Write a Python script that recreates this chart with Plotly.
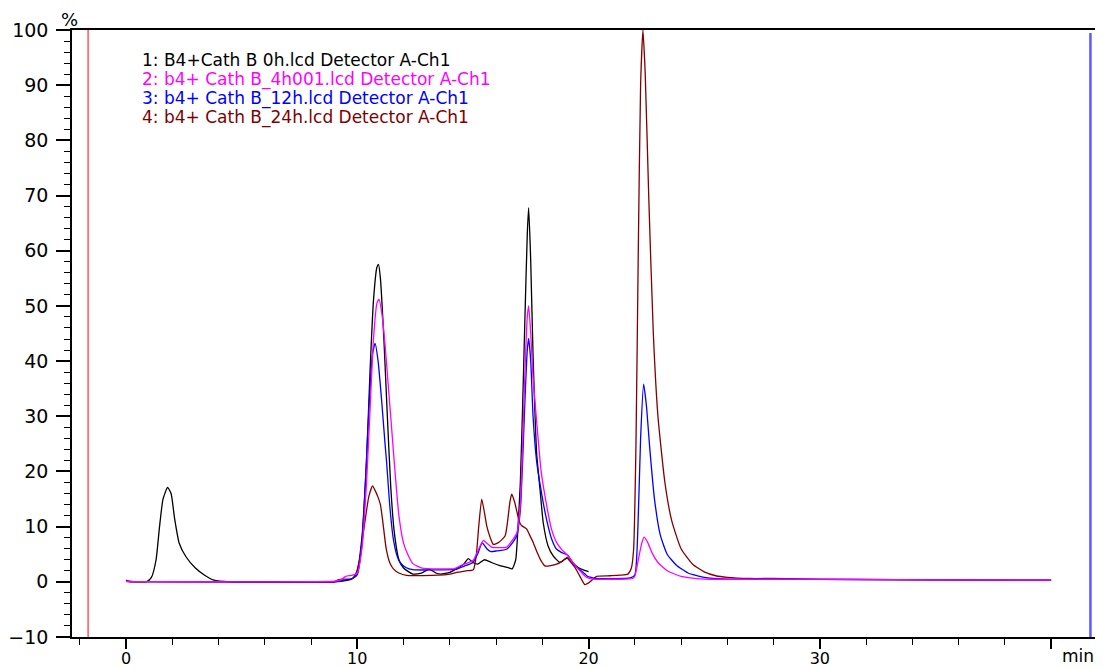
import plotly.graph_objects as go

# ---- data (time in min, intensity in %) ----
t_0h = [0.0, 0.1, 0.9, 1.1, 1.3, 1.45, 1.6, 1.8, 1.95, 2.1, 2.3, 2.6, 3.0, 3.4, 3.8, 4.5, 9.0, 9.5, 9.8,
        10.0, 10.2, 10.4, 10.55, 10.7, 10.85, 10.92, 11.0, 11.15, 11.3, 11.45, 11.6, 11.8, 12.0, 12.4,
        12.8, 13.1, 13.4, 13.6, 14.0, 14.3, 14.6, 14.8, 15.0, 15.2, 15.5, 15.8, 16.2, 16.5, 16.7, 16.85,
        16.95, 17.05, 17.15, 17.25, 17.35, 17.41, 17.5, 17.6, 17.76, 17.9, 18.04, 18.25, 18.47, 18.76,
        18.95, 19.12, 19.3, 19.55, 19.8, 20.0]
y_0h = [0.3, 0.1, 0.05, 0.8, 4.0, 10.0, 15.0, 17.1, 16.0, 11.5, 7.0, 4.5, 2.5, 1.2, 0.3, 0.0, 0.0, 0.2, 0.6,
        2.0, 8.0, 22.0, 38.0, 51.0, 57.0, 57.5, 55.0, 44.0, 30.0, 17.0, 9.0, 4.0, 2.5, 1.4,
        1.6, 2.3, 1.6, 1.4, 1.7, 2.4, 3.2, 4.2, 3.5, 3.2, 4.0, 3.5, 2.9, 2.6, 2.35, 4.0,
        10.0, 18.0, 32.0, 48.0, 63.0, 67.8, 58.0, 41.0, 23.0, 16.8, 10.7, 6.5, 4.7, 3.5,
        4.0, 4.4, 3.5, 2.6, 2.1, 1.85]

t_4h = [0.0, 0.3, 5.0, 9.0, 9.3, 9.5, 9.8, 10.0, 10.2, 10.4, 10.55, 10.7, 10.85, 10.94, 11.05, 11.2,
        11.35, 11.5, 11.65, 11.8, 12.0, 12.2, 12.4, 12.8, 13.5, 14.2, 14.5, 15.0, 15.2, 15.45, 15.6, 15.8,
        16.1, 16.46, 16.7, 16.9, 17.05, 17.15, 17.25, 17.35, 17.41, 17.5, 17.6, 17.76, 17.95, 18.19, 18.4,
        18.62, 18.85, 19.05, 19.3, 19.55, 19.75, 19.92, 20.2, 21.6, 21.9, 22.0, 22.15, 22.3, 22.4, 22.55,
        22.75, 23.0, 23.4, 24.0, 25.0, 28.0, 35.0, 40.0]
y_4h = [0.1, 0.05, 0.0, 0.1, 0.4, 1.0, 1.2, 1.6, 6.0, 18.0, 31.0, 44.0, 50.5, 51.2, 49.0, 43.0,
        35.0, 27.0, 19.0, 12.0, 7.0, 4.8, 3.3, 2.5, 2.35, 2.4, 3.0, 3.85, 5.5, 7.5, 7.0, 6.3,
        6.2, 6.3, 7.5, 8.9, 14.0, 25.0, 38.0, 48.0, 50.0, 45.0, 37.0, 28.8, 20.0, 13.8, 9.5,
        7.1, 5.8, 5.0, 3.6, 2.35, 1.4, 0.8, 0.5, 0.5, 0.6, 1.0, 4.0, 7.0, 8.1, 7.2,
        5.2, 3.5, 2.0, 1.0, 0.5, 0.5, 0.35, 0.3]

t_12h = [0.0, 0.3, 5.0, 9.0, 9.5, 9.8, 10.0, 10.2, 10.35, 10.5, 10.65, 10.77, 10.9, 11.05, 11.2, 11.27,
         11.4, 11.55, 11.7, 11.85, 12.1, 12.4, 14.3, 14.6, 15.0, 15.2, 15.4, 15.6, 15.75, 16.03, 16.46,
         16.7, 16.89, 17.05, 17.15, 17.25, 17.35, 17.41, 17.5, 17.6, 17.75, 17.97, 18.2, 18.4, 18.6,
         18.84, 19.1, 19.4, 19.77, 19.95, 20.06, 20.3, 21.8, 22.0, 22.15, 22.25, 22.38, 22.5, 22.65,
         22.85, 23.1, 23.4, 23.8, 24.3, 25.0, 26.0, 28.0, 35.0, 40.0]
y_12h = [0.1, 0.05, 0.0, 0.0, 0.3, 0.6, 1.3, 7.0, 18.0, 31.0, 41.0, 43.2, 40.0, 33.0, 25.0, 21.6,
         14.0, 8.0, 5.0, 3.5, 2.6, 2.2, 2.3, 2.8, 3.5, 5.0, 7.05, 6.0, 5.5, 5.6, 5.9,
         7.0, 8.3, 13.0, 22.0, 33.0, 42.0, 44.1, 40.0, 30.0, 22.0, 16.0, 11.0, 7.8, 6.0,
         5.3, 4.8, 3.0, 1.7, 1.0, 0.85, 0.6, 0.7, 1.2, 12.0, 26.0, 35.8, 32.0, 24.0,
         15.0, 8.5, 5.0, 3.0, 1.6, 0.8, 0.5, 0.5, 0.35, 0.3]

t_24h = [0.0, 0.3, 5.0, 9.0, 9.2, 9.4, 9.7, 9.9, 10.1, 10.3, 10.5, 10.66, 10.8, 10.9, 11.0, 11.1, 11.25,
         11.4, 11.56, 11.8, 12.13, 13.5, 14.0, 14.3, 14.7, 15.02, 15.15, 15.25, 15.38, 15.5, 15.6, 15.75,
         15.88, 16.1, 16.39, 16.5, 16.6, 16.68, 16.8, 16.89, 17.0, 17.1, 17.32, 17.45, 17.61, 17.76,
         17.95, 18.11, 18.3, 18.62, 18.85, 19.05, 19.2, 19.41, 19.6, 19.84, 20.0, 20.35, 20.93, 21.36,
         21.7, 21.85, 21.95, 22.05, 22.15, 22.25, 22.35, 22.45, 22.6, 22.8, 23.0, 23.3, 23.6, 24.0,
         24.5, 25.0, 25.5, 26.0, 27.0, 28.0, 30.0, 35.0, 40.0]
y_24h = [0.1, 0.05, 0.0, 0.0, 0.4, 0.5, 0.5, 1.0, 4.0, 10.0, 15.5, 17.4, 16.3, 15.3, 14.0, 11.0, 6.0,
         3.5, 2.35, 1.6, 1.15, 1.2, 1.4, 1.7, 2.0, 2.2, 5.0, 10.0, 15.0, 12.5, 10.1, 8.0,
         6.8, 7.1, 8.3, 11.0, 14.5, 15.9, 14.5, 12.9, 11.0, 10.2, 9.6, 8.5, 7.1, 5.5,
         3.8, 2.9, 2.9, 3.2, 3.7, 4.4, 3.7, 2.6, 1.2, -0.5, -0.2, 1.0, 1.1, 1.2,
         1.4, 2.5, 6.0, 25.0, 60.0, 90.0, 100.0, 92.0, 70.0, 45.0, 30.0, 18.0, 11.0, 6.0,
         3.2, 1.8, 1.1, 0.8, 0.6, 0.6, 0.45, 0.35, 0.3]

labels = ["1: B4+Cath B 0h.lcd Detector A-Ch1",
          "2: b4+ Cath B_4h001.lcd Detector A-Ch1",
          "3: b4+ Cath B_12h.lcd Detector A-Ch1",
          "4: b4+ Cath B_24h.lcd Detector A-Ch1"]
colors = ["#000000", "#FF00FF", "#0000FF", "#800000"]

x_ticks = [0, 10, 20, 30, 40]
x_ticktext = ["0", "10", "20", "30", ""]
y_ticks = [-10, 0, 10, 20, 30, 40, 50, 60, 70, 80, 90, 100]

series = [(t_0h, y_0h), (t_4h, y_4h), (t_12h, y_12h), (t_24h, y_24h)]

fig = go.Figure()
for idx in [0, 3, 2, 1]:
    tx, ty = series[idx]
    fig.add_trace(go.Scatter(x=tx, y=ty, mode="lines", name=labels[idx],
                             line=dict(color=colors[idx], width=1.3, shape="spline", smoothing=0.5),
                             showlegend=False, hoverinfo="skip"))

FONT = "DejaVu Sans"
for i, (lab, col) in enumerate(zip(labels, colors)):
    fig.add_annotation(x=0.066, y=0.9505 - i * 0.0315, xref="paper", yref="paper",
                       text=lab, showarrow=False, xanchor="left", yanchor="middle",
                       font=dict(family=FONT, size=17, color=col))

fig.add_annotation(x=1.0, y=0, xref="paper", yref="paper", text="min", showarrow=False,
                   xanchor="right", yanchor="top", yshift=-7, xshift=-3,
                   font=dict(family=FONT, size=17, color="#000000"))
fig.add_annotation(x=0, y=1, xref="paper", yref="paper", text="%", showarrow=False,
                   xanchor="center", yanchor="middle", xshift=-3, yshift=11,
                   font=dict(family=FONT, size=18, color="#000000"))

fig.add_shape(type="line", xref="x", yref="paper", x0=-1.64, x1=-1.64, y0=0, y1=1,
              line=dict(color="#FF0000", width=1))
fig.add_shape(type="line", xref="x", yref="paper", x0=41.7, x1=41.7, y0=0, y1=0.995,
              line=dict(color="#5A5AFF", width=2.5))

# the page body has an 8px default margin, so the figure is sized to fit the window
fig.update_layout(
    width=1095, height=661,
    margin=dict(l=64, r=4, t=22, b=32),
    paper_bgcolor="white", plot_bgcolor="white",
    font=dict(family=FONT, size=19, color="#000000"),
)
fig.update_xaxes(range=[-2.335, 42.07], tickvals=x_ticks, ticktext=x_ticktext,
                 automargin=False,
                 ticks="outside", ticklen=10, tickwidth=1.5, tickcolor="#000000",
                 showline=True, linecolor="#000000", linewidth=1.5, mirror=True,
                 showgrid=False, zeroline=False, ticklabelstandoff=-4,
                 tickfont=dict(family=FONT, size=16),
                 minor=dict(dtick=2, tick0=0, ticks="outside", ticklen=6, tickcolor="#000000",
                            tickwidth=1, showgrid=False))
fig.update_yaxes(range=[-10, 100], tickvals=y_ticks,
                 automargin=False,
                 ticks="outside", ticklen=14, tickwidth=1.5, tickcolor="#000000",
                 showline=True, linecolor="#000000", linewidth=1.5, mirror=True,
                 showgrid=False, zeroline=False, ticklabelstandoff=4,
                 tickfont=dict(family=FONT, size=19),
                 minor=dict(dtick=2, tick0=0, ticks="outside", ticklen=6, tickcolor="#000000",
                            tickwidth=1, showgrid=False))

fig.write_html("out.html")
